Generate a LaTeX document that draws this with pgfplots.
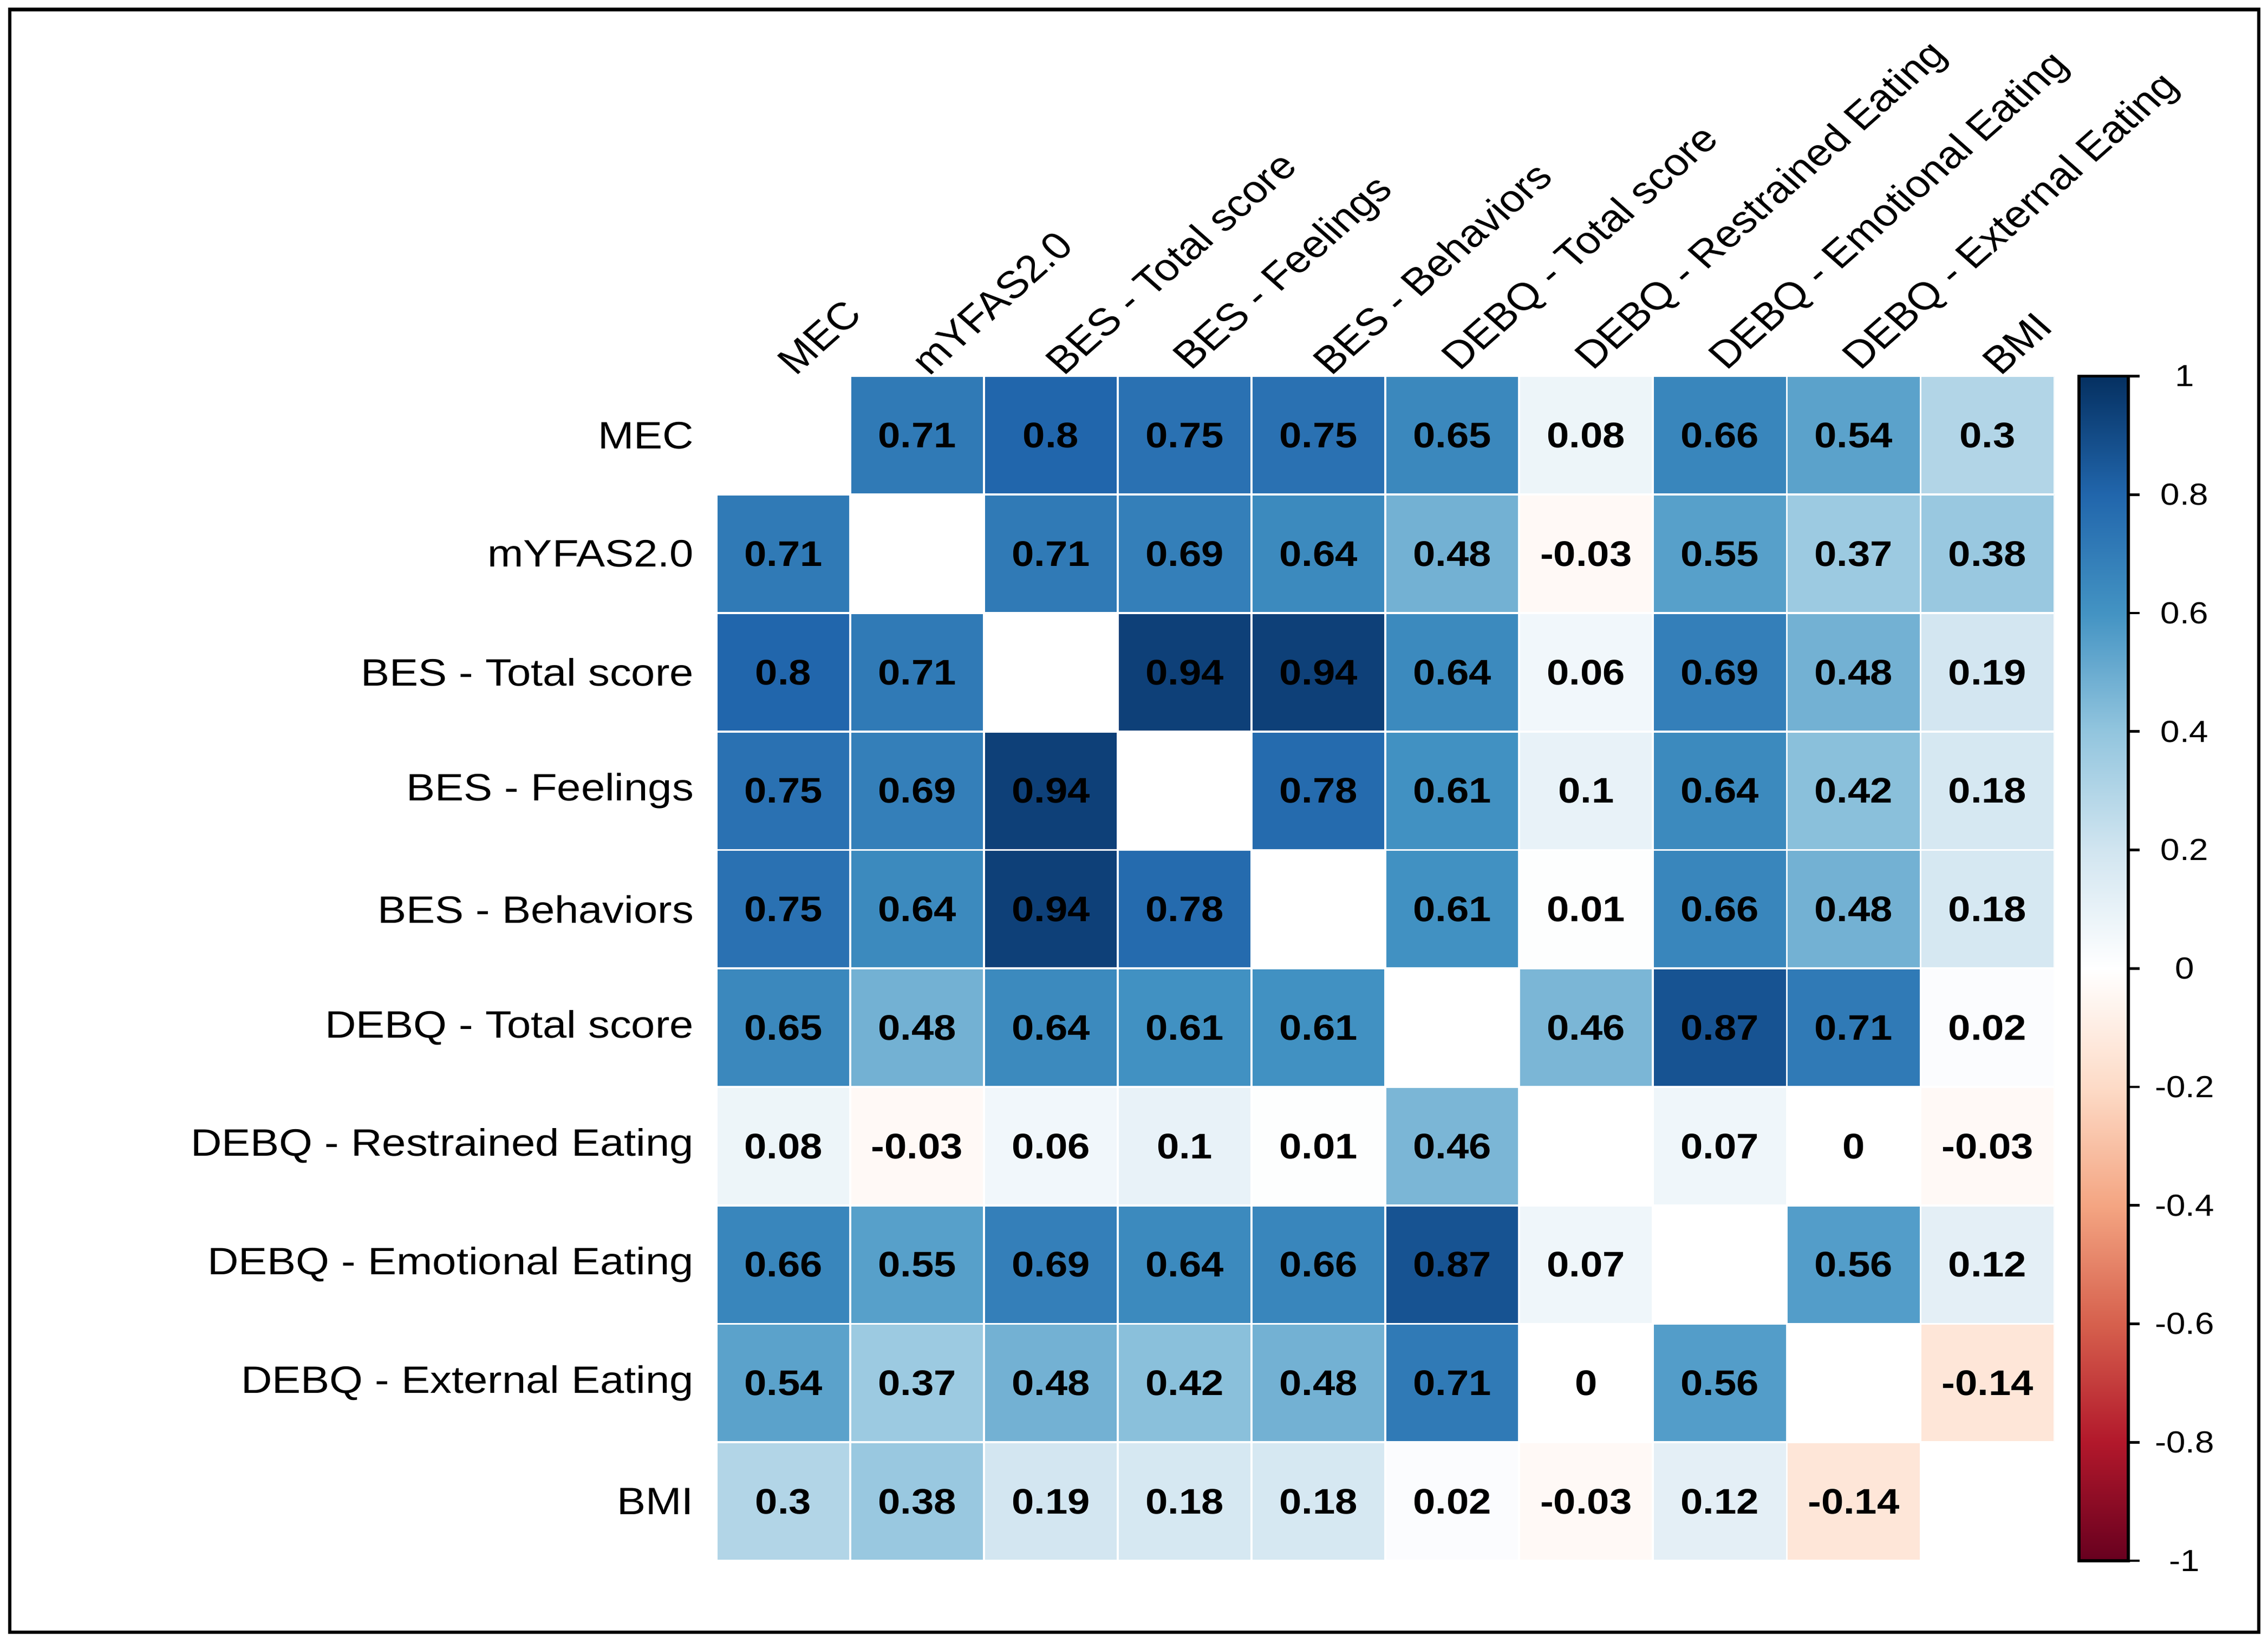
\documentclass[border=0pt]{standalone}
\usepackage{fontspec}
% the reference is stretched horizontally (cells 92.5 x 81.9), so the text is too
\setmainfont{Liberation Sans}[FakeStretch=1.13]
\newfontfamily\plainsans{Liberation Sans}
\usepackage{pgfplots}
\usepackage{pgfplotstable}
\pgfplotsset{compat=1.18}

% correlation matrix, row by row (y = row, x = column); diagonal set to 0 (white)
\pgfplotstableread{
x y v
0 0 0
1 0 0.71
2 0 0.8
3 0 0.75
4 0 0.75
5 0 0.65
6 0 0.08
7 0 0.66
8 0 0.54
9 0 0.3
0 1 0.71
1 1 0
2 1 0.71
3 1 0.69
4 1 0.64
5 1 0.48
6 1 -0.03
7 1 0.55
8 1 0.37
9 1 0.38
0 2 0.8
1 2 0.71
2 2 0
3 2 0.94
4 2 0.94
5 2 0.64
6 2 0.06
7 2 0.69
8 2 0.48
9 2 0.19
0 3 0.75
1 3 0.69
2 3 0.94
3 3 0
4 3 0.78
5 3 0.61
6 3 0.1
7 3 0.64
8 3 0.42
9 3 0.18
0 4 0.75
1 4 0.64
2 4 0.94
3 4 0.78
4 4 0
5 4 0.61
6 4 0.01
7 4 0.66
8 4 0.48
9 4 0.18
0 5 0.65
1 5 0.48
2 5 0.64
3 5 0.61
4 5 0.61
5 5 0
6 5 0.46
7 5 0.87
8 5 0.71
9 5 0.02
0 6 0.08
1 6 -0.03
2 6 0.06
3 6 0.1
4 6 0.01
5 6 0.46
6 6 0
7 6 0.07
8 6 0
9 6 -0.03
0 7 0.66
1 7 0.55
2 7 0.69
3 7 0.64
4 7 0.66
5 7 0.87
6 7 0.07
7 7 0
8 7 0.56
9 7 0.12
0 8 0.54
1 8 0.37
2 8 0.48
3 8 0.42
4 8 0.48
5 8 0.71
6 8 0
7 8 0.56
8 8 0
9 8 -0.14
0 9 0.3
1 9 0.38
2 9 0.19
3 9 0.18
4 9 0.18
5 9 0.02
6 9 -0.03
7 9 0.12
8 9 -0.14
9 9 0
}\corr

\pgfplotsset{
  colormap={rdbu}{
    rgb255=(103,0,31) rgb255=(178,24,43) rgb255=(214,96,77) rgb255=(244,165,130)
    rgb255=(253,219,199) rgb255=(255,255,255) rgb255=(209,229,240) rgb255=(146,197,222)
    rgb255=(67,147,195) rgb255=(33,102,172) rgb255=(5,48,97)
  }
}

\newcommand{\lblfont}{\fontsize{7.5}{9}\selectfont}
\newcommand{\numfont}{\fontsize{7}{8}\selectfont\bfseries}

\begin{document}
\begin{tikzpicture}
\useasboundingbox (-49.53mm,26.0mm) rectangle (107.27mm,-87.48mm);
\draw[line width=0.24mm] (-48.86mm,25.35mm) rectangle (106.63mm,-86.84mm);
\begin{axis}[
  at={(0,0)}, anchor=north west,
  x=9.25mm, y=8.19mm, y dir=reverse,
  xmin=-0.5, xmax=9.5, ymin=-0.5, ymax=9.5,
  axis line style={draw=none},
  major tick length=0pt,
  xtick={0,...,9}, ytick={0,...,9},
  xtick pos=upper, xticklabel pos=upper,
  xticklabels={MEC, mYFAS2.0, BES - Total score, BES - Feelings, BES - Behaviors, DEBQ - Total score, DEBQ - Restrained Eating, DEBQ - Emotional Eating, DEBQ - External Eating, BMI},
  yticklabels={MEC, mYFAS2.0, BES - Total score, BES - Feelings, BES - Behaviors, DEBQ - Total score, DEBQ - Restrained Eating, DEBQ - Emotional Eating, DEBQ - External Eating, BMI},
  % shift on the page, then 45 degree labels stretched like the rest of the picture
  xticklabel style={font=\plainsans\lblfont, xshift=0.9mm, yshift=-0.15mm, xscale=1.13, rotate=45, anchor=south west, inner sep=0pt},
  yticklabel style={font=\lblfont, anchor=east, inner sep=0pt, xshift=-1.5mm},
  colormap name=rdbu,
  point meta min=-1, point meta max=1,
  colorbar,
  colorbar style={
    width=3.4mm,
    at={(parent axis.north east)}, anchor=north west, xshift=-1.3mm,
    ytick={-1,-0.8,-0.6,-0.4,-0.2,0,0.2,0.4,0.6,0.8,1},
    yticklabels={-1,-0.8,-0.6,-0.4,-0.2,0,0.2,0.4,0.6,0.8,1},
    yticklabel style={font=\fontsize{6}{7}\selectfont, anchor=center, xshift=3.1mm},
    ytick pos=right,
    tick align=outside,
    major tick length=0.8mm,
    tick style={black, line width=0.5pt},
    axis line style={line width=0.6pt, black},
  },
]
\addplot[matrix plot*, mesh/cols=10, point meta=explicit, draw=white, line width=0.4pt]
  table[x=x, y=y, meta=v] {\corr};
% same table, diagonal entries (index a multiple of 11) skipped
\addplot[only marks, mark=none, point meta=explicit,
  x filter/.code={\ifnum\coordindex=\numexpr((\coordindex-5)/11)*11\relax\let\pgfmathresult\empty\fi},
  nodes near coords={\pgfmathprintnumber[fixed, precision=2, assume math mode=true]{\pgfplotspointmeta}},
  nodes near coords align=center,
  every node near coord/.append style={font=\numfont, text=black, anchor=center}]
  table[x=x, y=y, meta=v] {\corr};
\end{axis}
\end{tikzpicture}
\end{document}
